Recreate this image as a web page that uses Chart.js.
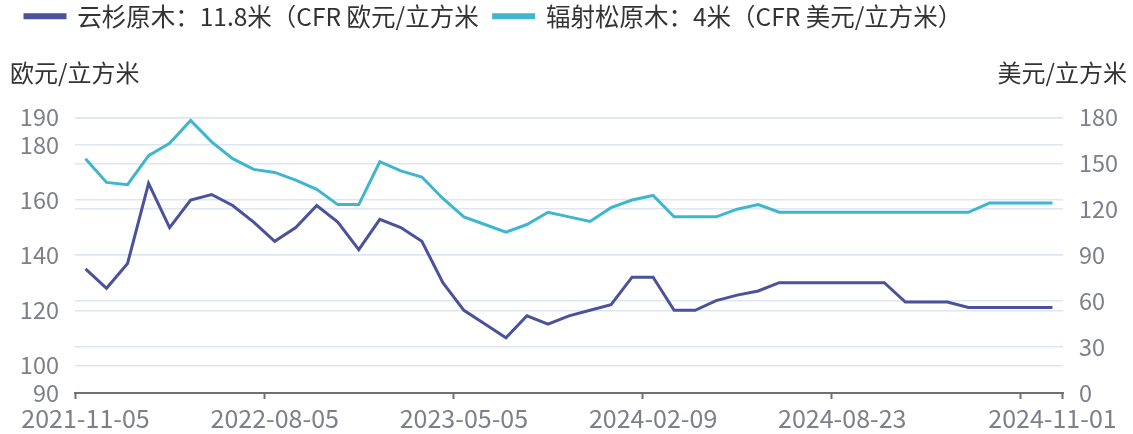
<!DOCTYPE html>
<html>
<head>
<meta charset="utf-8">
<script src="https://cdn.jsdelivr.net/npm/chart.js@4.4.1/dist/chart.umd.min.js"></script>
<style>
  html, body { margin: 0; padding: 0; background: #fff; }
</style>
</head>
<body>
<canvas id="myChart" width="1133" height="434"></canvas>
<script>
'use strict'
// data
let dates = [
  '2021-11-05', '2021-12-05', '2022-01-05', '2022-02-05', '2022-03-05', '2022-04-05',
  '2022-05-05', '2022-06-05', '2022-07-05', '2022-08-05', '2022-09-05', '2022-10-05',
  '2022-11-05', '2022-12-05', '2023-01-05', '2023-02-05', '2023-03-05', '2023-04-05',
  '2023-05-05', '2023-06-05', '2023-07-05', '2023-08-05', '2023-09-05', '2023-10-05',
  '2023-11-05', '2023-12-05', '2024-01-05', '2024-02-09', '2024-03-01', '2024-03-22',
  '2024-04-12', '2024-05-03', '2024-05-24', '2024-06-14', '2024-07-05', '2024-07-26',
  '2024-08-23', '2024-08-30', '2024-09-06', '2024-09-13', '2024-09-20', '2024-09-27',
  '2024-10-04', '2024-10-11', '2024-10-18', '2024-10-25', '2024-11-01'
];
// 云杉原木 11.8米, 欧元/立方米 (left axis)
let spruceEur = [
  135, 128, 137, 166, 150, 160, 162, 158, 152, 145, 150, 158,
  152, 142, 153, 150, 145, 130, 120, 115, 110, 118, 115, 118,
  120, 122, 132, 132, 120, 120, 123.5, 125.5, 127, 130, 130, 130,
  130, 130, 130, 123, 123, 123, 121, 121, 121, 121, 121
];
// 辐射松原木 4米, 美元/立方米 (right axis)
let radiataUsd = [
  153, 137.5, 136, 155, 163, 178, 164, 153, 146, 144, 139, 133,
  123, 123, 151, 145, 141, 127, 115, 110, 105, 110, 118, 115,
  112, 121, 126, 129, 115, 115, 115, 120, 123, 118, 118, 118,
  118, 118, 118, 118, 118, 118, 118, 124, 124, 124, 124
];
let leftTicks = [90, 100, 120, 140, 160, 180, 190];
let rightTicks = [0, 30, 60, 90, 120, 150, 180];
let labelIdx = [0, 9, 18, 27, 36, 46];
let tickIdx = [0, 9, 18, 27, 36, 45];

let navy = '#4b529c';
let cyan = '#3eb6ce';
let tickGray = '#7d7f8a';
let gridColor = '#e0e6f1';

Chart.defaults.font.family = "'Noto Sans CJK SC', 'Noto Sans', sans-serif";

const ctx = document.getElementById('myChart');

new Chart(ctx, {
  type: 'line',
  data: {
    labels: dates,
    datasets: [
      {
        label: '云杉原木：11.8米（CFR 欧元/立方米',
        data: spruceEur,
        yAxisID: 'y',
        borderColor: navy,
        backgroundColor: navy,
        borderWidth: 3,
        pointRadius: 0,
        tension: 0
      },
      {
        label: '辐射松原木：4米（CFR 美元/立方米）',
        data: radiataUsd,
        yAxisID: 'y1',
        borderColor: cyan,
        backgroundColor: cyan,
        borderWidth: 3,
        pointRadius: 0,
        tension: 0
      }
    ]
  },
  options: {
    responsive: false,
    animation: false,
    layout: { padding: { top: -11, left: 10, right: 6, bottom: 0 } },
    plugins: {
      legend: {
        align: 'start',
        labels: {
          boxWidth: 40,
          boxHeight: 3,
          padding: 15,
          color: '#333',
          font: { size: 24.5 }
        }
      },
      // unit labels: same stack so they share one row
      title: {
        display: true,
        text: '欧元/立方米',
        align: 'start',
        weight: 600,
        stack: 'units',
        color: '#333',
        font: { size: 24, weight: 'normal' },
        padding: { top: 20, bottom: 30 }
      },
      subtitle: {
        display: true,
        text: '美元/立方米',
        align: 'end',
        weight: 500,
        stack: 'units',
        color: '#333',
        font: { size: 24, weight: 'normal' },
        padding: { top: 20, bottom: 30 }
      },
      tooltip: { enabled: false }
    },
    scales: {
      x: {
        type: 'category',
        offset: true,
        grid: {
          offset: true,
          drawOnChartArea: false,
          tickLength: 6,
          tickWidth: 2,
          tickColor: (c) => (c.index === undefined || tickIdx.includes(c.index)) ? '#6e7079' : 'rgba(0,0,0,0)'
        },
        border: { color: '#6e7079', width: 2 },
        ticks: {
          autoSkip: false,
          maxRotation: 0,
          minRotation: 0,
          padding: 4,
          color: tickGray,
          font: { size: 25 },
          callback: function (v, i) { return labelIdx.includes(i) ? dates[i] : ''; }
        },
        afterFit: (s) => { s.height = 41; }
      },
      y: {
        position: 'left',
        min: 90,
        max: 190,
        afterBuildTicks: (s) => { s.ticks = leftTicks.map(v => ({ value: v })); },
        grid: { color: gridColor, lineWidth: 1.5, drawTicks: false },
        border: { display: false },
        ticks: { padding: 16, color: tickGray, font: { size: 23.5 } },
        afterFit: (s) => { s.width = 65; }
      },
      y1: {
        position: 'right',
        min: 0,
        max: 180,
        afterBuildTicks: (s) => { s.ticks = rightTicks.map(v => ({ value: v })); },
        grid: { color: gridColor, lineWidth: 1.5, drawTicks: false },
        border: { display: false },
        ticks: { padding: 16, color: tickGray, font: { size: 23.5 } },
        afterFit: (s) => { s.width = 64; }
      }
    }
  }
});
</script>
</body>
</html>
